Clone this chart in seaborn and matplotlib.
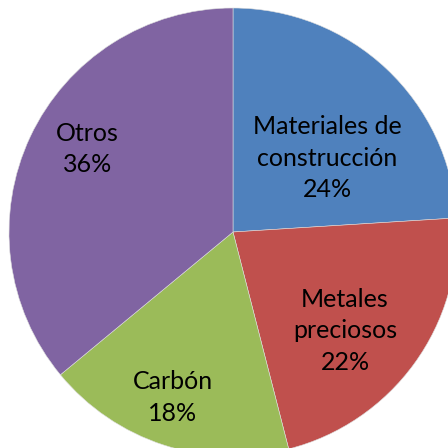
import matplotlib
matplotlib.use("Agg")
import matplotlib.pyplot as plt
import seaborn as sns

categories = ["Materiales de\nconstrucción", "Metales\npreciosos", "Carbón", "Otros"]
shares = [24, 22, 18, 36]
colors = ["#4F81BD", "#C0504D", "#9BBB59", "#8064A2"]
# label centres in units of the pie radius
label_pos = [(0.42, 0.33), (0.50, -0.44), (-0.27, -0.74), (-0.65, 0.37)]

sns.set_style("white")
plt.rcParams["font.family"] = ["Lato", "DejaVu Sans"]

fig = plt.figure(figsize=(4.48, 4.48), dpi=100)
# pie centre at (233, 232) px from top-left, radius ~224 px
r = 224 / 448
cx, cy = 233 / 448, 1 - 232 / 448
ax = fig.add_axes([cx - r, cy - r, 2 * r, 2 * r])

wedges, _ = ax.pie(shares, colors=colors, startangle=90, counterclock=False,
                   radius=1, wedgeprops=dict(edgecolor="#dddddd", linewidth=0.4))

for name, pct, (x, y) in zip(categories, shares, label_pos):
    ax.text(x, y, f"{name}\n{pct}%", ha="center", va="center",
            fontsize=18, color="black", linespacing=1.45)

ax.set_xlim(-1, 1)
ax.set_ylim(-1, 1)
ax.set_aspect("equal")
ax.axis("off")

fig.savefig("out.png", dpi=100)
